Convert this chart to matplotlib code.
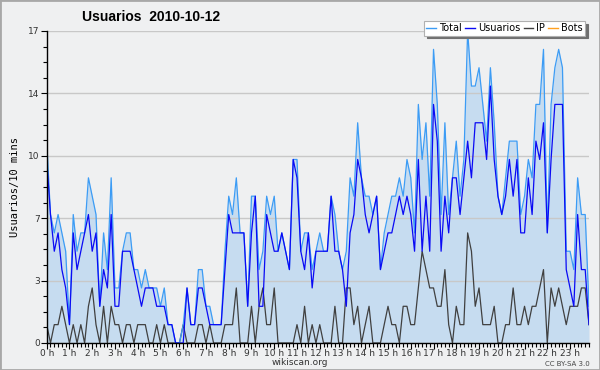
import numpy as np
import matplotlib
matplotlib.use('Agg')
import matplotlib.pyplot as plt
from matplotlib.lines import Line2D
from matplotlib.patches import Rectangle
from matplotlib.ticker import AutoMinorLocator, FixedLocator, MultipleLocator

# values every 10 minutes, 2010-10-12
total = [11, 7, 6, 7, 6, 5, 1, 7, 5, 6,
         6, 9, 8, 7, 2, 6, 4, 9, 3, 3,
         5, 6, 6, 4, 4, 3, 4, 3, 3, 3,
         2, 3, 1, 1, 0, 0, 1, 3, 1, 1,
         4, 4, 2, 2, 1, 1, 1, 5, 8, 7,
         9, 6, 6, 2, 8, 8, 4, 5, 8, 7,
         8, 5, 6, 5, 4, 10, 10, 5, 6, 6,
         4, 5, 6, 5, 5, 8, 7, 5, 4, 5,
         9, 8, 12, 9, 8, 8, 7, 8, 4, 6,
         7, 8, 8, 9, 8, 10, 9, 6, 13, 10,
         12, 8, 16, 13, 7, 12, 7, 9, 11, 8,
         10, 17, 14, 14, 15, 13, 11, 15, 12, 8,
         7, 9, 11, 11, 11, 7, 8, 10, 9, 13,
         13, 16, 6, 13, 15, 16, 15, 5, 5, 4,
         9, 7, 7, 2]

usuarios = [10, 7, 5, 6, 4, 3, 1, 6, 4, 5,
            6, 7, 5, 6, 2, 4, 3, 7, 2, 2,
            5, 5, 5, 4, 3, 2, 3, 3, 3, 2,
            2, 2, 1, 1, 0, 0, 0, 3, 1, 1,
            3, 3, 2, 1, 1, 1, 1, 4, 7, 6,
            6, 6, 6, 2, 6, 8, 2, 2, 7, 6,
            5, 5, 6, 5, 4, 10, 9, 5, 4, 6,
            3, 5, 5, 5, 5, 8, 5, 5, 4, 2,
            6, 7, 10, 9, 7, 6, 7, 8, 4, 5,
            6, 6, 7, 8, 7, 8, 7, 5, 10, 5,
            8, 5, 13, 11, 5, 8, 6, 9, 9, 7,
            9, 11, 9, 12, 12, 12, 10, 14, 10, 8,
            7, 8, 10, 8, 10, 6, 6, 9, 7, 11,
            10, 12, 6, 10, 13, 13, 13, 4, 3, 2,
            7, 4, 4, 1]

ip = [1, 0, 1, 1, 2, 1, 0, 1, 0, 1,
      0, 2, 3, 1, 0, 2, 0, 2, 1, 1,
      0, 1, 1, 0, 1, 1, 1, 0, 0, 1,
      0, 1, 0, 0, 0, 0, 1, 0, 0, 0,
      1, 1, 0, 1, 0, 0, 0, 1, 1, 1,
      3, 0, 0, 0, 2, 0, 2, 3, 1, 1,
      3, 0, 0, 0, 0, 0, 1, 0, 2, 0,
      1, 0, 1, 0, 0, 0, 2, 0, 0, 3,
      3, 1, 2, 0, 1, 2, 0, 0, 0, 1,
      2, 1, 1, 0, 2, 2, 1, 1, 3, 5,
      4, 3, 3, 2, 2, 4, 1, 0, 2, 1,
      1, 6, 5, 2, 3, 1, 1, 1, 2, 0,
      0, 1, 1, 3, 1, 1, 2, 1, 2, 2,
      3, 4, 0, 3, 2, 3, 2, 1, 2, 2,
      2, 3, 3, 1]

hour_labels = ['%d h' % h for h in range(24)]

bg = '#EFF0F1'
c_total = '#3C9CF5'
c_fill = '#C6DCF0'
c_users = '#0A0AF5'
c_ip = '#404040'
c_bots = '#FFA020'

fig = plt.figure(figsize=(6, 3.7), dpi=100, facecolor=bg)
ax = fig.add_axes([46.7 / 600, 1 - 343 / 370, (589 - 46.7) / 600, 312 / 370])
ax.set_facecolor(bg)

x = np.arange(len(total))
ax.fill_between(x, total, 0, color=c_fill, lw=0, zorder=1)
ax.plot(x, ip, color=c_ip, lw=0.9, zorder=3)
ax.plot(x, total, color=c_total, lw=0.9, zorder=4)
ax.plot(x, usuarios, color=c_users, lw=0.9, zorder=5)

ax.set_xlim(0, len(total) - 1)
ax.set_ylim(0, 17)

# y axis: 5 equal steps, labels rounded
yt = np.linspace(0, 17, 6)
ax.yaxis.set_major_locator(FixedLocator(yt))
ax.set_yticklabels(['%d' % round(v) for v in yt])
ax.yaxis.set_minor_locator(AutoMinorLocator(4))

ax.xaxis.set_major_locator(FixedLocator(np.arange(0, len(total), 6)))
ax.set_xticklabels(hour_labels)
ax.xaxis.set_minor_locator(MultipleLocator(1))

ax.tick_params(axis='both', which='major', length=4, width=0.8,
               labelsize=6.5, colors='#000000', labelcolor='#333333', pad=1)
ax.tick_params(axis='x', which='major', pad=0.5)
ax.tick_params(axis='both', which='minor', length=3, width=0.8)

ax.set_axisbelow(False)
ax.grid(axis='y', which='major', color='#C8C8C8', lw=1)
for s in ['top', 'right']:
    ax.spines[s].set_visible(False)
for s in ['left', 'bottom']:
    ax.spines[s].set_linewidth(1)
    ax.spines[s].set_zorder(6)

ax.set_ylabel('Usuarios/10 mins', family='DejaVu Sans Mono', fontsize=7.5,
              labelpad=6)

fig.text(151 / 600, 1 - 17 / 370, 'Usuarios  2010-10-12', ha='center',
         va='center', fontsize=10, fontweight='bold', family='Liberation Sans')

handles = [Line2D([], [], color=c_total, lw=1),
           Line2D([], [], color=c_users, lw=1),
           Line2D([], [], color=c_ip, lw=1),
           Line2D([], [], color=c_bots, lw=1)]
leg = fig.legend(handles, ['Total', 'Usuarios', 'IP', 'Bots'], ncol=4,
                 loc='upper right', bbox_to_anchor=(590 / 600, 1 - 16 / 370),
                 fontsize=7, handlelength=1.0, handletextpad=0.3,
                 columnspacing=0.35, borderpad=0.25, fancybox=False,
                 shadow={'color': '#707070', 'alpha': 1, 'ox': 2, 'oy': -2},
                 framealpha=1, edgecolor='#B0B0B0')
leg.get_frame().set_linewidth(0.8)
leg.set_zorder(10)

fig.text(300 / 600, 1 - 362.5 / 370, 'wikiscan.org', ha='center', va='center',
         fontsize=6.5, color='#333333')
fig.text(590 / 600, 1 - 363.5 / 370, 'CC BY-SA 3.0', ha='right', va='center',
         fontsize=5, color='#444444')

fig.patches.append(Rectangle((0, 0), 1, 1, transform=fig.transFigure,
                             fill=False, edgecolor='#A8A8A8', lw=2))

fig.savefig('out.png', dpi=100, facecolor=bg)
